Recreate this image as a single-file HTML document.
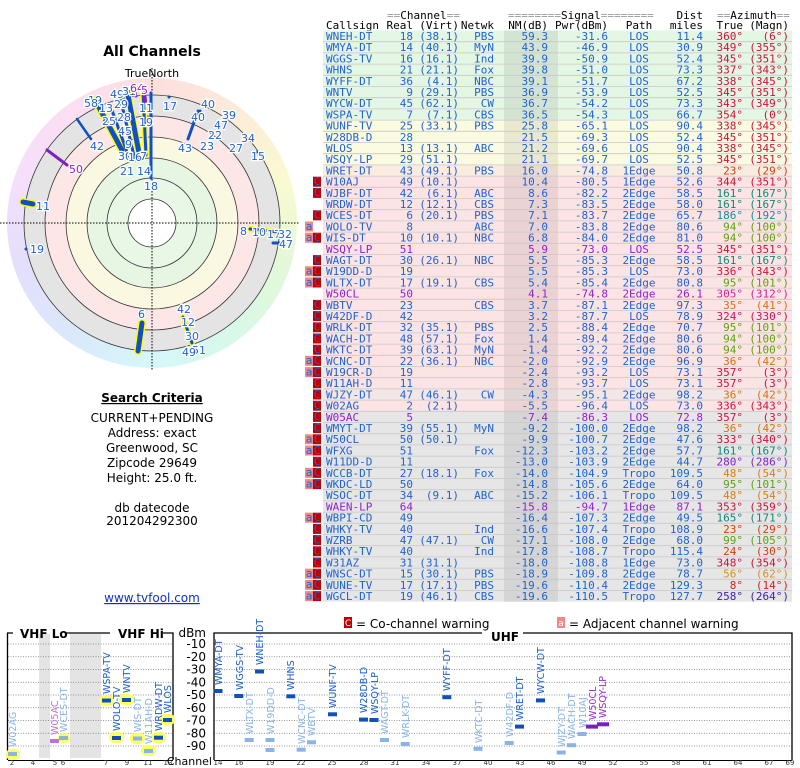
<!DOCTYPE html>
<html><head><meta charset="utf-8"><style>
body{margin:0;background:#fff;width:800px;height:768px;overflow:hidden;position:relative}
#ring{position:absolute;left:7px;top:78px;width:290px;height:290px;border-radius:50%;
background:conic-gradient(hsl(0,80%,93%),hsl(30,85%,92%),hsl(60,80%,90%),hsl(100,70%,91%),hsl(150,70%,91%),hsl(185,80%,91%),hsl(215,80%,92%),hsl(250,80%,93%),hsl(285,80%,93%),hsl(320,80%,93%),hsl(360,80%,93%))}
svg{position:absolute;left:0;top:0}
.t text{font-family:"DejaVu Sans Mono","Liberation Mono",monospace;font-size:11px;fill:#1f62d2}
.e{text-anchor:end}.m{text-anchor:middle}
.g{fill:#999}
.p{fill:#9020d0}
.s{font-family:"DejaVu Sans","Liberation Sans",sans-serif}
.lb{font-family:"DejaVu Sans","Liberation Sans",sans-serif;font-size:9.5px}
.st{fill:#1a5fd0}.fa{fill:#8ab4e8}.pu{fill:#9a30d0}
.pl{font-family:"DejaVu Sans","Liberation Sans",sans-serif;font-size:11px;fill:#1f62d2;paint-order:stroke;stroke:#fff;stroke-width:2.5px}
.bd{font-family:"DejaVu Sans","Liberation Sans",sans-serif;font-size:9px;fill:#fff;text-anchor:middle}
</style></head><body>
<div id="ring"></div>
<svg width="800" height="768" viewBox="0 0 800 768">
<!-- left panel -->
<text x="152" y="56" class="s m" font-size="14" font-weight="bold">All Channels</text>
<text x="152" y="77" class="s m" font-size="11">TrueNorth</text>
<circle cx="152" cy="223" r="128" fill="#e4e4e4" stroke="#333" stroke-width="0.8"/>
<circle cx="152" cy="223" r="107" fill="#fde6e6" stroke="#333" stroke-width="0.8"/>
<circle cx="152" cy="223" r="86" fill="#fbf8e2" stroke="#333" stroke-width="0.8"/>
<circle cx="152" cy="223" r="65" fill="#e6f6e2" stroke="#333" stroke-width="0.8"/>
<circle cx="152" cy="223" r="45" fill="#e8f7e6" stroke="#333" stroke-width="0.8"/>
<circle cx="152" cy="223" r="24" fill="#fff" stroke="#333" stroke-width="0.8"/>
<line x1="0" y1="223" x2="300" y2="223" stroke="#000" stroke-dasharray="1.5,1.5" stroke-width="1"/>
<line x1="152" y1="68" x2="152" y2="370" stroke="#000" stroke-dasharray="1.5,1.5" stroke-width="1"/>
<g stroke-linecap="round">
<line x1="95" y1="100" x2="122" y2="150" stroke="#ff0" stroke-width="8"/>
<line x1="95" y1="100" x2="122" y2="150" stroke="#1050c0" stroke-width="5"/>
<line x1="110" y1="105" x2="130" y2="160" stroke="#1050c0" stroke-width="3"/>
<line x1="120" y1="97" x2="135" y2="160" stroke="#1050c0" stroke-width="3"/>
<line x1="127" y1="90" x2="140" y2="158" stroke="#ff0" stroke-width="7"/>
<line x1="127" y1="90" x2="140" y2="158" stroke="#1050c0" stroke-width="5"/>
<line x1="143" y1="92" x2="146" y2="155" stroke="#ff0" stroke-width="6"/>
<line x1="143" y1="92" x2="146" y2="155" stroke="#1050c0" stroke-width="3"/>
<line x1="151" y1="93" x2="151" y2="178" stroke="#1050c0" stroke-width="3"/>
<line x1="134" y1="88" x2="136" y2="96" stroke="#8020c0" stroke-width="3"/>
<line x1="144" y1="93" x2="145" y2="101" stroke="#8020c0" stroke-width="4"/>
<line x1="198" y1="111" x2="188" y2="139" stroke="#1050c0" stroke-width="3"/>
<line x1="77" y1="119" x2="91" y2="139" stroke="#1050c0" stroke-width="2.5"/>
<line x1="47" y1="150" x2="67" y2="165" stroke="#8020c0" stroke-width="3"/>
<line x1="23" y1="202" x2="33" y2="204" stroke="#ff0" stroke-width="8"/>
<line x1="23" y1="202" x2="33" y2="204" stroke="#1050c0" stroke-width="5"/>
<line x1="142" y1="323" x2="138" y2="351" stroke="#ff0" stroke-width="8"/>
<line x1="142" y1="323" x2="138" y2="351" stroke="#1050c0" stroke-width="5"/>
<line x1="183" y1="317" x2="192" y2="343" stroke="#ff0" stroke-width="6"/>
<line x1="183" y1="317" x2="192" y2="343" stroke="#1050c0" stroke-width="3"/>
<line x1="250" y1="229" x2="279" y2="232" stroke="#ff0" stroke-width="6"/>
<line x1="250" y1="229" x2="279" y2="232" stroke="#1050c0" stroke-width="3"/>
<line x1="273" y1="243" x2="279" y2="243" stroke="#1050c0" stroke-width="3"/>
<circle cx="169" cy="97" r="1.5" fill="#1050c0"/><circle cx="26" cy="249" r="1.5" fill="#1050c0"/><circle cx="257" cy="152" r="1.5" fill="#1050c0"/><circle cx="218" cy="127" r="1.5" fill="#1050c0"/><circle cx="200" cy="111" r="1.5" fill="#1050c0"/>
</g>
<g class="pl">
<text x="144" y="190">18</text><text x="178" y="152">43</text><text x="90" y="150">42</text><text x="69" y="173" style="fill:#9020d0">50</text>
<text x="36" y="210">11</text><text x="30" y="253">19</text><text x="138" y="318">6</text>
<text x="177" y="313">42</text><text x="181" y="326">12</text><text x="185" y="340">30</text><text x="192" y="354">51</text><text x="182" y="356">49</text>
<text x="240" y="235">8</text><text x="252" y="236">10</text><text x="267" y="238">17</text><text x="278" y="238">32</text><text x="279" y="248">47</text>
<text x="163" y="110">17</text><text x="201" y="108">40</text><text x="191" y="121">40</text><text x="222" y="119">39</text><text x="214" y="129">47</text><text x="208" y="139">22</text><text x="200" y="150">23</text><text x="241" y="142">34</text><text x="229" y="152">27</text><text x="251" y="160">15</text>
<text x="110" y="98">49</text><text x="122" y="95">31</text><text x="130" y="92" style="fill:#9020d0">64</text><text x="141" y="94" style="fill:#9020d0">5</text>
<text x="88" y="104">19</text><text x="84" y="107">58</text><text x="99" y="112">13</text><text x="114" y="108">29</text><text x="139" y="112">11</text><text x="139" y="126">19</text>
<text x="117" y="121">28</text><text x="102" y="125">25</text><text x="118" y="135">45</text><text x="125" y="148">9</text><text x="118" y="160">30</text><text x="128" y="161">16</text><text x="140" y="160">7</text><text x="120" y="175">21</text><text x="137" y="175">14</text>
</g>
<g class="s" font-size="12" text-anchor="middle">
<text x="152" y="402" font-weight="bold" text-decoration="underline">Search Criteria</text>
<text x="152" y="422">CURRENT+PENDING</text>
<text x="152" y="437">Address: exact</text>
<text x="152" y="452">Greenwood, SC</text>
<text x="152" y="467">Zipcode 29649</text>
<text x="152" y="482">Height: 25.0 ft.</text>
<text x="152" y="512">db datecode</text>
<text x="152" y="525">201204292300</text>
<text x="152" y="602" fill="#1030d0" text-decoration="underline">www.tvfool.com</text>
</g>

<!-- table -->
<g class="t">
<text y="19"><tspan x="387" class="g">==</tspan><tspan fill="#000" style="fill:#000">Channel</tspan><tspan class="g">==</tspan><tspan x="508" class="g">========</tspan><tspan style="fill:#000">Signal</tspan><tspan class="g">========</tspan><tspan x="703" class="e" style="fill:#000">Dist</tspan><tspan x="717" class="g">==</tspan><tspan style="fill:#000">Azimuth</tspan><tspan class="g">==</tspan></text>
<text y="29" style="fill:#000"><tspan x="326">Callsign</tspan><tspan x="413" class="e">Real</tspan><tspan x="459" class="e">(Virt)</tspan><tspan x="494" class="e">Netwk</tspan><tspan x="548" class="e">NM(dB)</tspan><tspan x="608" class="e">Pwr(dBm)</tspan><tspan x="639" class="m">Path</tspan><tspan x="703" class="e">miles</tspan><tspan x="743" class="e">True</tspan><tspan x="789" class="e">(Magn)</tspan></text>

<rect x="323" y="30.5" width="469" height="89.6" fill="#e4f6e4"/>
<rect x="323" y="120.1" width="469" height="44.8" fill="#fbfbe2"/>
<rect x="323" y="164.9" width="469" height="11.2" fill="#fbece2"/>
<rect x="323" y="176.1" width="469" height="235.2" fill="#fde4e4"/>
<rect x="323" y="388.9" width="469" height="11.2" fill="#f3e6e6"/>
<rect x="323" y="411.3" width="469" height="190.4" fill="#e6e6e6"/>
<rect x="504" y="30.5" width="54" height="571.2" fill="rgba(0,0,0,0.07)"/>
<g stroke="#c8c8c8" stroke-width="0.8">
<path d="M323 41.7H792M323 52.9H792M323 64.1H792M323 75.3H792M323 86.5H792M323 97.7H792M323 108.9H792M323 120.1H792M323 131.3H792M323 142.5H792M323 153.7H792M323 164.9H792M323 176.1H792M323 187.3H792M323 198.5H792M323 209.7H792M323 220.9H792M323 232.1H792M323 243.3H792M323 254.5H792M323 265.7H792M323 276.9H792M323 288.1H792M323 299.3H792M323 310.5H792M323 321.7H792M323 332.9H792M323 344.1H792M323 355.3H792M323 366.5H792M323 377.7H792M323 388.9H792M323 400.1H792M323 411.3H792M323 422.5H792M323 433.7H792M323 444.9H792M323 456.1H792M323 467.3H792M323 478.5H792M323 489.7H792M323 500.9H792M323 512.1H792M323 523.3H792M323 534.5H792M323 545.7H792M323 556.9H792M323 568.1H792M323 579.3H792M323 590.5H792"/>
</g>

<!-- badges: C -->
<g fill="#c00000">
<rect x="313" y="176.7" width="8" height="10"/><rect x="313" y="187.9" width="8" height="10"/><rect x="313" y="210.3" width="8" height="10"/><rect x="313" y="232.7" width="8" height="10"/><rect x="313" y="255.1" width="8" height="10"/><rect x="313" y="266.3" width="8" height="10"/><rect x="313" y="277.5" width="8" height="10"/><rect x="313" y="299.9" width="8" height="10"/><rect x="313" y="311.1" width="8" height="10"/><rect x="313" y="322.3" width="8" height="10"/><rect x="313" y="333.5" width="8" height="10"/><rect x="313" y="344.7" width="8" height="10"/><rect x="313" y="355.9" width="8" height="10"/><rect x="313" y="367.1" width="8" height="10"/><rect x="313" y="378.3" width="8" height="10"/><rect x="313" y="389.5" width="8" height="10"/><rect x="313" y="400.7" width="8" height="10"/><rect x="313" y="411.9" width="8" height="10"/><rect x="313" y="423.1" width="8" height="10"/><rect x="313" y="434.3" width="8" height="10"/><rect x="313" y="445.5" width="8" height="10"/><rect x="313" y="456.7" width="8" height="10"/><rect x="313" y="467.9" width="8" height="10"/><rect x="313" y="479.1" width="8" height="10"/><rect x="313" y="512.7" width="8" height="10"/><rect x="313" y="523.9" width="8" height="10"/><rect x="313" y="535.1" width="8" height="10"/><rect x="313" y="546.3" width="8" height="10"/><rect x="313" y="557.5" width="8" height="10"/><rect x="313" y="568.7" width="8" height="10"/><rect x="313" y="579.9" width="8" height="10"/><rect x="313" y="591.1" width="8" height="10"/>
</g>
<g fill="#f08888">
<rect x="305" y="221.5" width="8" height="10"/><rect x="305" y="232.7" width="8" height="10"/><rect x="305" y="266.3" width="8" height="10"/><rect x="305" y="277.5" width="8" height="10"/><rect x="305" y="355.9" width="8" height="10"/><rect x="305" y="367.1" width="8" height="10"/><rect x="305" y="434.3" width="8" height="10"/><rect x="305" y="445.5" width="8" height="10"/><rect x="305" y="467.9" width="8" height="10"/><rect x="305" y="479.1" width="8" height="10"/><rect x="305" y="512.7" width="8" height="10"/><rect x="305" y="568.7" width="8" height="10"/><rect x="305" y="579.9" width="8" height="10"/><rect x="305" y="591.1" width="8" height="10"/>
</g>
<g class="bd">
<text x="317" y="185">C</text><text x="317" y="196.2">C</text><text x="317" y="218.6">C</text><text x="317" y="241">C</text><text x="317" y="263.4">C</text><text x="317" y="274.6">C</text><text x="317" y="285.8">C</text><text x="317" y="308.2">C</text><text x="317" y="319.4">C</text><text x="317" y="330.6">C</text><text x="317" y="341.8">C</text><text x="317" y="353">C</text><text x="317" y="364.2">C</text><text x="317" y="375.4">C</text><text x="317" y="386.6">C</text><text x="317" y="397.8">C</text><text x="317" y="409">C</text><text x="317" y="420.2">C</text><text x="317" y="431.4">C</text><text x="317" y="442.6">C</text><text x="317" y="453.8">C</text><text x="317" y="465">C</text><text x="317" y="476.2">C</text><text x="317" y="487.4">C</text><text x="317" y="521">C</text><text x="317" y="532.2">C</text><text x="317" y="543.4">C</text><text x="317" y="554.6">C</text><text x="317" y="565.8">C</text><text x="317" y="577">C</text><text x="317" y="588.2">C</text><text x="317" y="599.4">C</text>
<text x="309" y="229.8">a</text><text x="309" y="241">a</text><text x="309" y="274.6">a</text><text x="309" y="285.8">a</text><text x="309" y="364.2">a</text><text x="309" y="375.4">a</text><text x="309" y="442.6">a</text><text x="309" y="453.8">a</text><text x="309" y="476.2">a</text><text x="309" y="487.4">a</text><text x="309" y="521">a</text><text x="309" y="577">a</text><text x="309" y="588.2">a</text><text x="309" y="599.4">a</text>
</g>

<g transform="translate(0,30.5)"><text y="9.5"><tspan x="326">WNEH-DT</tspan><tspan x="413" class="e">18</tspan><tspan x="459" class="e">(38.1)</tspan><tspan x="494" class="e">PBS</tspan><tspan x="548" class="e">59.3</tspan><tspan x="608" class="e">-31.6</tspan><tspan x="639" class="m">LOS</tspan><tspan x="703" class="e">11.4</tspan><tspan x="743" class="e" style="fill:#d0103a">360°</tspan><tspan x="789" class="e" style="fill:#d0103a">(6°)</tspan></text></g>
<g transform="translate(0,41.7)"><text y="9.5"><tspan x="326">WMYA-DT</tspan><tspan x="413" class="e">14</tspan><tspan x="459" class="e">(40.1)</tspan><tspan x="494" class="e">MyN</tspan><tspan x="548" class="e">43.9</tspan><tspan x="608" class="e">-46.9</tspan><tspan x="639" class="m">LOS</tspan><tspan x="703" class="e">30.9</tspan><tspan x="743" class="e" style="fill:#d0103a">349°</tspan><tspan x="789" class="e" style="fill:#d0103a">(355°)</tspan></text></g>
<g transform="translate(0,52.9)"><text y="9.5"><tspan x="326">WGGS-TV</tspan><tspan x="413" class="e">16</tspan><tspan x="459" class="e">(16.1)</tspan><tspan x="494" class="e">Ind</tspan><tspan x="548" class="e">39.9</tspan><tspan x="608" class="e">-50.9</tspan><tspan x="639" class="m">LOS</tspan><tspan x="703" class="e">52.4</tspan><tspan x="743" class="e" style="fill:#d0103a">345°</tspan><tspan x="789" class="e" style="fill:#d0103a">(351°)</tspan></text></g>
<g transform="translate(0,64.1)"><text y="9.5"><tspan x="326">WHNS</tspan><tspan x="413" class="e">21</tspan><tspan x="459" class="e">(21.1)</tspan><tspan x="494" class="e">Fox</tspan><tspan x="548" class="e">39.8</tspan><tspan x="608" class="e">-51.0</tspan><tspan x="639" class="m">LOS</tspan><tspan x="703" class="e">73.3</tspan><tspan x="743" class="e" style="fill:#d0103a">337°</tspan><tspan x="789" class="e" style="fill:#d0103a">(343°)</tspan></text></g>
<g transform="translate(0,75.3)"><text y="9.5"><tspan x="326">WYFF-DT</tspan><tspan x="413" class="e">36</tspan><tspan x="459" class="e">(4.1)</tspan><tspan x="494" class="e">NBC</tspan><tspan x="548" class="e">39.1</tspan><tspan x="608" class="e">-51.7</tspan><tspan x="639" class="m">LOS</tspan><tspan x="703" class="e">67.2</tspan><tspan x="743" class="e" style="fill:#d0103a">338°</tspan><tspan x="789" class="e" style="fill:#d0103a">(345°)</tspan></text></g>
<g transform="translate(0,86.5)"><text y="9.5"><tspan x="326">WNTV</tspan><tspan x="413" class="e">9</tspan><tspan x="459" class="e">(29.1)</tspan><tspan x="494" class="e">PBS</tspan><tspan x="548" class="e">36.9</tspan><tspan x="608" class="e">-53.9</tspan><tspan x="639" class="m">LOS</tspan><tspan x="703" class="e">52.5</tspan><tspan x="743" class="e" style="fill:#d0103a">345°</tspan><tspan x="789" class="e" style="fill:#d0103a">(351°)</tspan></text></g>
<g transform="translate(0,97.7)"><text y="9.5"><tspan x="326">WYCW-DT</tspan><tspan x="413" class="e">45</tspan><tspan x="459" class="e">(62.1)</tspan><tspan x="494" class="e">CW</tspan><tspan x="548" class="e">36.7</tspan><tspan x="608" class="e">-54.2</tspan><tspan x="639" class="m">LOS</tspan><tspan x="703" class="e">73.3</tspan><tspan x="743" class="e" style="fill:#d0103a">343°</tspan><tspan x="789" class="e" style="fill:#d0103a">(349°)</tspan></text></g>
<g transform="translate(0,108.9)"><text y="9.5"><tspan x="326">WSPA-TV</tspan><tspan x="413" class="e">7</tspan><tspan x="459" class="e">(7.1)</tspan><tspan x="494" class="e">CBS</tspan><tspan x="548" class="e">36.5</tspan><tspan x="608" class="e">-54.3</tspan><tspan x="639" class="m">LOS</tspan><tspan x="703" class="e">66.7</tspan><tspan x="743" class="e" style="fill:#d0103a">354°</tspan><tspan x="789" class="e" style="fill:#d0103a">(0°)</tspan></text></g>
<g transform="translate(0,120.1)"><text y="9.5"><tspan x="326">WUNF-TV</tspan><tspan x="413" class="e">25</tspan><tspan x="459" class="e">(33.1)</tspan><tspan x="494" class="e">PBS</tspan><tspan x="548" class="e">25.8</tspan><tspan x="608" class="e">-65.1</tspan><tspan x="639" class="m">LOS</tspan><tspan x="703" class="e">90.4</tspan><tspan x="743" class="e" style="fill:#d0103a">338°</tspan><tspan x="789" class="e" style="fill:#d0103a">(345°)</tspan></text></g>
<g transform="translate(0,131.3)"><text y="9.5"><tspan x="326">W28DB-D</tspan><tspan x="413" class="e">28</tspan><tspan x="548" class="e">21.5</tspan><tspan x="608" class="e">-69.3</tspan><tspan x="639" class="m">LOS</tspan><tspan x="703" class="e">52.4</tspan><tspan x="743" class="e" style="fill:#d0103a">345°</tspan><tspan x="789" class="e" style="fill:#d0103a">(351°)</tspan></text></g>
<g transform="translate(0,142.5)"><text y="9.5"><tspan x="326">WLOS</tspan><tspan x="413" class="e">13</tspan><tspan x="459" class="e">(13.1)</tspan><tspan x="494" class="e">ABC</tspan><tspan x="548" class="e">21.2</tspan><tspan x="608" class="e">-69.6</tspan><tspan x="639" class="m">LOS</tspan><tspan x="703" class="e">90.4</tspan><tspan x="743" class="e" style="fill:#d0103a">338°</tspan><tspan x="789" class="e" style="fill:#d0103a">(345°)</tspan></text></g>
<g transform="translate(0,153.7)"><text y="9.5"><tspan x="326">WSQY-LP</tspan><tspan x="413" class="e">29</tspan><tspan x="459" class="e">(51.1)</tspan><tspan x="548" class="e">21.1</tspan><tspan x="608" class="e">-69.7</tspan><tspan x="639" class="m">LOS</tspan><tspan x="703" class="e">52.5</tspan><tspan x="743" class="e" style="fill:#d0103a">345°</tspan><tspan x="789" class="e" style="fill:#d0103a">(351°)</tspan></text></g>
<g transform="translate(0,164.9)"><text y="9.5"><tspan x="326">WRET-DT</tspan><tspan x="413" class="e">43</tspan><tspan x="459" class="e">(49.1)</tspan><tspan x="494" class="e">PBS</tspan><tspan x="548" class="e">16.0</tspan><tspan x="608" class="e">-74.8</tspan><tspan x="639" class="m">1Edge</tspan><tspan x="703" class="e">50.8</tspan><tspan x="743" class="e" style="fill:#d04010">23°</tspan><tspan x="789" class="e" style="fill:#d04010">(29°)</tspan></text></g>
<g transform="translate(0,176.1)"><text y="9.5"><tspan x="326">W10AJ</tspan><tspan x="413" class="e">49</tspan><tspan x="459" class="e">(10.1)</tspan><tspan x="548" class="e">10.4</tspan><tspan x="608" class="e">-80.5</tspan><tspan x="639" class="m">1Edge</tspan><tspan x="703" class="e">52.6</tspan><tspan x="743" class="e" style="fill:#d0103a">344°</tspan><tspan x="789" class="e" style="fill:#d0103a">(351°)</tspan></text></g>
<g transform="translate(0,187.3)"><text y="9.5"><tspan x="326">WJBF-DT</tspan><tspan x="413" class="e">42</tspan><tspan x="459" class="e">(6.1)</tspan><tspan x="494" class="e">ABC</tspan><tspan x="548" class="e">8.6</tspan><tspan x="608" class="e">-82.2</tspan><tspan x="639" class="m">2Edge</tspan><tspan x="703" class="e">58.5</tspan><tspan x="743" class="e" style="fill:#108878">161°</tspan><tspan x="789" class="e" style="fill:#108878">(167°)</tspan></text></g>
<g transform="translate(0,198.5)"><text y="9.5"><tspan x="326">WRDW-DT</tspan><tspan x="413" class="e">12</tspan><tspan x="459" class="e">(12.1)</tspan><tspan x="494" class="e">CBS</tspan><tspan x="548" class="e">7.3</tspan><tspan x="608" class="e">-83.5</tspan><tspan x="639" class="m">2Edge</tspan><tspan x="703" class="e">58.0</tspan><tspan x="743" class="e" style="fill:#108878">161°</tspan><tspan x="789" class="e" style="fill:#108878">(167°)</tspan></text></g>
<g transform="translate(0,209.7)"><text y="9.5"><tspan x="326">WCES-DT</tspan><tspan x="413" class="e">6</tspan><tspan x="459" class="e">(20.1)</tspan><tspan x="494" class="e">PBS</tspan><tspan x="548" class="e">7.1</tspan><tspan x="608" class="e">-83.7</tspan><tspan x="639" class="m">2Edge</tspan><tspan x="703" class="e">65.7</tspan><tspan x="743" class="e" style="fill:#1888a0">186°</tspan><tspan x="789" class="e" style="fill:#1888a0">(192°)</tspan></text></g>
<g transform="translate(0,220.9)"><text y="9.5"><tspan x="326">WOLO-TV</tspan><tspan x="413" class="e">8</tspan><tspan x="494" class="e">ABC</tspan><tspan x="548" class="e">7.0</tspan><tspan x="608" class="e">-83.8</tspan><tspan x="639" class="m">2Edge</tspan><tspan x="703" class="e">80.6</tspan><tspan x="743" class="e" style="fill:#60a010">94°</tspan><tspan x="789" class="e" style="fill:#60a010">(100°)</tspan></text></g>
<g transform="translate(0,232.1)"><text y="9.5"><tspan x="326">WIS-DT</tspan><tspan x="413" class="e">10</tspan><tspan x="459" class="e">(10.1)</tspan><tspan x="494" class="e">NBC</tspan><tspan x="548" class="e">6.8</tspan><tspan x="608" class="e">-84.0</tspan><tspan x="639" class="m">2Edge</tspan><tspan x="703" class="e">81.0</tspan><tspan x="743" class="e" style="fill:#60a010">94°</tspan><tspan x="789" class="e" style="fill:#60a010">(100°)</tspan></text></g>
<g transform="translate(0,243.3)"><text y="9.5"><tspan x="326" class="p">WSQY-LP</tspan><tspan x="413" class="e p">51</tspan><tspan x="548" class="e p">5.9</tspan><tspan x="608" class="e p">-73.0</tspan><tspan x="639" class="m p">LOS</tspan><tspan x="703" class="e p">52.5</tspan><tspan x="743" class="e" style="fill:#d0103a">345°</tspan><tspan x="789" class="e" style="fill:#d0103a">(351°)</tspan></text></g>
<g transform="translate(0,254.5)"><text y="9.5"><tspan x="326">WAGT-DT</tspan><tspan x="413" class="e">30</tspan><tspan x="459" class="e">(26.1)</tspan><tspan x="494" class="e">NBC</tspan><tspan x="548" class="e">5.5</tspan><tspan x="608" class="e">-85.3</tspan><tspan x="639" class="m">2Edge</tspan><tspan x="703" class="e">58.5</tspan><tspan x="743" class="e" style="fill:#108878">161°</tspan><tspan x="789" class="e" style="fill:#108878">(167°)</tspan></text></g>
<g transform="translate(0,265.7)"><text y="9.5"><tspan x="326">W19DD-D</tspan><tspan x="413" class="e">19</tspan><tspan x="548" class="e">5.5</tspan><tspan x="608" class="e">-85.3</tspan><tspan x="639" class="m">LOS</tspan><tspan x="703" class="e">73.0</tspan><tspan x="743" class="e" style="fill:#d0103a">336°</tspan><tspan x="789" class="e" style="fill:#d0103a">(343°)</tspan></text></g>
<g transform="translate(0,276.9)"><text y="9.5"><tspan x="326">WLTX-DT</tspan><tspan x="413" class="e">17</tspan><tspan x="459" class="e">(19.1)</tspan><tspan x="494" class="e">CBS</tspan><tspan x="548" class="e">5.4</tspan><tspan x="608" class="e">-85.4</tspan><tspan x="639" class="m">2Edge</tspan><tspan x="703" class="e">80.8</tspan><tspan x="743" class="e" style="fill:#60a010">95°</tspan><tspan x="789" class="e" style="fill:#60a010">(101°)</tspan></text></g>
<g transform="translate(0,288.1)"><text y="9.5"><tspan x="326" class="p">W50CL</tspan><tspan x="413" class="e p">50</tspan><tspan x="548" class="e p">4.1</tspan><tspan x="608" class="e p">-74.8</tspan><tspan x="639" class="m p">2Edge</tspan><tspan x="703" class="e p">26.1</tspan><tspan x="743" class="e" style="fill:#d020a0">305°</tspan><tspan x="789" class="e" style="fill:#d020a0">(312°)</tspan></text></g>
<g transform="translate(0,299.3)"><text y="9.5"><tspan x="326">WBTV</tspan><tspan x="413" class="e">23</tspan><tspan x="494" class="e">CBS</tspan><tspan x="548" class="e">3.7</tspan><tspan x="608" class="e">-87.1</tspan><tspan x="639" class="m">2Edge</tspan><tspan x="703" class="e">97.3</tspan><tspan x="743" class="e" style="fill:#d87010">35°</tspan><tspan x="789" class="e" style="fill:#d87010">(41°)</tspan></text></g>
<g transform="translate(0,310.5)"><text y="9.5"><tspan x="326">W42DF-D</tspan><tspan x="413" class="e">42</tspan><tspan x="548" class="e">3.2</tspan><tspan x="608" class="e">-87.7</tspan><tspan x="639" class="m">LOS</tspan><tspan x="703" class="e">78.9</tspan><tspan x="743" class="e" style="fill:#d01060">324°</tspan><tspan x="789" class="e" style="fill:#d01060">(330°)</tspan></text></g>
<g transform="translate(0,321.7)"><text y="9.5"><tspan x="326">WRLK-DT</tspan><tspan x="413" class="e">32</tspan><tspan x="459" class="e">(35.1)</tspan><tspan x="494" class="e">PBS</tspan><tspan x="548" class="e">2.5</tspan><tspan x="608" class="e">-88.4</tspan><tspan x="639" class="m">2Edge</tspan><tspan x="703" class="e">70.7</tspan><tspan x="743" class="e" style="fill:#60a010">95°</tspan><tspan x="789" class="e" style="fill:#60a010">(101°)</tspan></text></g>
<g transform="translate(0,332.9)"><text y="9.5"><tspan x="326">WACH-DT</tspan><tspan x="413" class="e">48</tspan><tspan x="459" class="e">(57.1)</tspan><tspan x="494" class="e">Fox</tspan><tspan x="548" class="e">1.4</tspan><tspan x="608" class="e">-89.4</tspan><tspan x="639" class="m">2Edge</tspan><tspan x="703" class="e">80.6</tspan><tspan x="743" class="e" style="fill:#60a010">94°</tspan><tspan x="789" class="e" style="fill:#60a010">(100°)</tspan></text></g>
<g transform="translate(0,344.1)"><text y="9.5"><tspan x="326">WKTC-DT</tspan><tspan x="413" class="e">39</tspan><tspan x="459" class="e">(63.1)</tspan><tspan x="494" class="e">MyN</tspan><tspan x="548" class="e">-1.4</tspan><tspan x="608" class="e">-92.2</tspan><tspan x="639" class="m">2Edge</tspan><tspan x="703" class="e">80.6</tspan><tspan x="743" class="e" style="fill:#60a010">94°</tspan><tspan x="789" class="e" style="fill:#60a010">(100°)</tspan></text></g>
<g transform="translate(0,355.3)"><text y="9.5"><tspan x="326">WCNC-DT</tspan><tspan x="413" class="e">22</tspan><tspan x="459" class="e">(36.1)</tspan><tspan x="494" class="e">NBC</tspan><tspan x="548" class="e">-2.0</tspan><tspan x="608" class="e">-92.9</tspan><tspan x="639" class="m">2Edge</tspan><tspan x="703" class="e">96.9</tspan><tspan x="743" class="e" style="fill:#d87010">36°</tspan><tspan x="789" class="e" style="fill:#d87010">(42°)</tspan></text></g>
<g transform="translate(0,366.5)"><text y="9.5"><tspan x="326">W19CR-D</tspan><tspan x="413" class="e">19</tspan><tspan x="548" class="e">-2.4</tspan><tspan x="608" class="e">-93.2</tspan><tspan x="639" class="m">LOS</tspan><tspan x="703" class="e">73.1</tspan><tspan x="743" class="e" style="fill:#d0103a">357°</tspan><tspan x="789" class="e" style="fill:#d0103a">(3°)</tspan></text></g>
<g transform="translate(0,377.7)"><text y="9.5"><tspan x="326">W11AH-D</tspan><tspan x="413" class="e">11</tspan><tspan x="548" class="e">-2.8</tspan><tspan x="608" class="e">-93.7</tspan><tspan x="639" class="m">LOS</tspan><tspan x="703" class="e">73.1</tspan><tspan x="743" class="e" style="fill:#d0103a">357°</tspan><tspan x="789" class="e" style="fill:#d0103a">(3°)</tspan></text></g>
<g transform="translate(0,388.9)"><text y="9.5"><tspan x="326">WJZY-DT</tspan><tspan x="413" class="e">47</tspan><tspan x="459" class="e">(46.1)</tspan><tspan x="494" class="e">CW</tspan><tspan x="548" class="e">-4.3</tspan><tspan x="608" class="e">-95.1</tspan><tspan x="639" class="m">2Edge</tspan><tspan x="703" class="e">98.2</tspan><tspan x="743" class="e" style="fill:#d87010">36°</tspan><tspan x="789" class="e" style="fill:#d87010">(42°)</tspan></text></g>
<g transform="translate(0,400.1)"><text y="9.5"><tspan x="326">W02AG</tspan><tspan x="413" class="e">2</tspan><tspan x="459" class="e">(2.1)</tspan><tspan x="548" class="e">-5.5</tspan><tspan x="608" class="e">-96.4</tspan><tspan x="639" class="m">LOS</tspan><tspan x="703" class="e">73.0</tspan><tspan x="743" class="e" style="fill:#d0103a">336°</tspan><tspan x="789" class="e" style="fill:#d0103a">(343°)</tspan></text></g>
<g transform="translate(0,411.3)"><text y="9.5"><tspan x="326" class="p">W05AC</tspan><tspan x="413" class="e p">5</tspan><tspan x="548" class="e p">-7.4</tspan><tspan x="608" class="e p">-86.3</tspan><tspan x="639" class="m p">LOS</tspan><tspan x="703" class="e p">72.8</tspan><tspan x="743" class="e" style="fill:#d0103a">357°</tspan><tspan x="789" class="e" style="fill:#d0103a">(3°)</tspan></text></g>
<g transform="translate(0,422.5)"><text y="9.5"><tspan x="326">WMYT-DT</tspan><tspan x="413" class="e">39</tspan><tspan x="459" class="e">(55.1)</tspan><tspan x="494" class="e">MyN</tspan><tspan x="548" class="e">-9.2</tspan><tspan x="608" class="e">-100.0</tspan><tspan x="639" class="m">2Edge</tspan><tspan x="703" class="e">98.2</tspan><tspan x="743" class="e" style="fill:#d87010">36°</tspan><tspan x="789" class="e" style="fill:#d87010">(42°)</tspan></text></g>
<g transform="translate(0,433.7)"><text y="9.5"><tspan x="326">W50CL</tspan><tspan x="413" class="e">50</tspan><tspan x="459" class="e">(50.1)</tspan><tspan x="548" class="e">-9.9</tspan><tspan x="608" class="e">-100.7</tspan><tspan x="639" class="m">2Edge</tspan><tspan x="703" class="e">47.6</tspan><tspan x="743" class="e" style="fill:#d0103a">333°</tspan><tspan x="789" class="e" style="fill:#d0103a">(340°)</tspan></text></g>
<g transform="translate(0,444.9)"><text y="9.5"><tspan x="326">WFXG</tspan><tspan x="413" class="e">51</tspan><tspan x="494" class="e">Fox</tspan><tspan x="548" class="e">-12.3</tspan><tspan x="608" class="e">-103.2</tspan><tspan x="639" class="m">2Edge</tspan><tspan x="703" class="e">57.7</tspan><tspan x="743" class="e" style="fill:#108878">161°</tspan><tspan x="789" class="e" style="fill:#108878">(167°)</tspan></text></g>
<g transform="translate(0,456.1)"><text y="9.5"><tspan x="326">W11DD-D</tspan><tspan x="413" class="e">11</tspan><tspan x="548" class="e">-13.0</tspan><tspan x="608" class="e">-103.9</tspan><tspan x="639" class="m">2Edge</tspan><tspan x="703" class="e">44.7</tspan><tspan x="743" class="e" style="fill:#8020d0">280°</tspan><tspan x="789" class="e" style="fill:#8020d0">(286°)</tspan></text></g>
<g transform="translate(0,467.3)"><text y="9.5"><tspan x="326">WCCB-DT</tspan><tspan x="413" class="e">27</tspan><tspan x="459" class="e">(18.1)</tspan><tspan x="494" class="e">Fox</tspan><tspan x="548" class="e">-14.0</tspan><tspan x="608" class="e">-104.9</tspan><tspan x="639" class="m">Tropo</tspan><tspan x="703" class="e">109.5</tspan><tspan x="743" class="e" style="fill:#d88010">48°</tspan><tspan x="789" class="e" style="fill:#d88010">(54°)</tspan></text></g>
<g transform="translate(0,478.5)"><text y="9.5"><tspan x="326">WKDC-LD</tspan><tspan x="413" class="e">50</tspan><tspan x="548" class="e">-14.8</tspan><tspan x="608" class="e">-105.6</tspan><tspan x="639" class="m">2Edge</tspan><tspan x="703" class="e">64.0</tspan><tspan x="743" class="e" style="fill:#60a010">95°</tspan><tspan x="789" class="e" style="fill:#60a010">(101°)</tspan></text></g>
<g transform="translate(0,489.7)"><text y="9.5"><tspan x="326">WSOC-DT</tspan><tspan x="413" class="e">34</tspan><tspan x="459" class="e">(9.1)</tspan><tspan x="494" class="e">ABC</tspan><tspan x="548" class="e">-15.2</tspan><tspan x="608" class="e">-106.1</tspan><tspan x="639" class="m">Tropo</tspan><tspan x="703" class="e">109.5</tspan><tspan x="743" class="e" style="fill:#d88010">48°</tspan><tspan x="789" class="e" style="fill:#d88010">(54°)</tspan></text></g>
<g transform="translate(0,500.9)"><text y="9.5"><tspan x="326" class="p">WAEN-LP</tspan><tspan x="413" class="e p">64</tspan><tspan x="548" class="e p">-15.8</tspan><tspan x="608" class="e p">-94.7</tspan><tspan x="639" class="m p">1Edge</tspan><tspan x="703" class="e p">87.1</tspan><tspan x="743" class="e" style="fill:#d0103a">353°</tspan><tspan x="789" class="e" style="fill:#d0103a">(359°)</tspan></text></g>
<g transform="translate(0,512.1)"><text y="9.5"><tspan x="326">WBPI-CD</tspan><tspan x="413" class="e">49</tspan><tspan x="548" class="e">-16.4</tspan><tspan x="608" class="e">-107.3</tspan><tspan x="639" class="m">2Edge</tspan><tspan x="703" class="e">49.5</tspan><tspan x="743" class="e" style="fill:#108878">165°</tspan><tspan x="789" class="e" style="fill:#108878">(171°)</tspan></text></g>
<g transform="translate(0,523.3)"><text y="9.5"><tspan x="326">WHKY-TV</tspan><tspan x="413" class="e">40</tspan><tspan x="494" class="e">Ind</tspan><tspan x="548" class="e">-16.6</tspan><tspan x="608" class="e">-107.4</tspan><tspan x="639" class="m">Tropo</tspan><tspan x="703" class="e">108.9</tspan><tspan x="743" class="e" style="fill:#d04010">23°</tspan><tspan x="789" class="e" style="fill:#d04010">(29°)</tspan></text></g>
<g transform="translate(0,534.5)"><text y="9.5"><tspan x="326">WZRB</tspan><tspan x="413" class="e">47</tspan><tspan x="459" class="e">(47.1)</tspan><tspan x="494" class="e">CW</tspan><tspan x="548" class="e">-17.1</tspan><tspan x="608" class="e">-108.0</tspan><tspan x="639" class="m">2Edge</tspan><tspan x="703" class="e">68.0</tspan><tspan x="743" class="e" style="fill:#60a010">99°</tspan><tspan x="789" class="e" style="fill:#60a010">(105°)</tspan></text></g>
<g transform="translate(0,545.7)"><text y="9.5"><tspan x="326">WHKY-TV</tspan><tspan x="413" class="e">40</tspan><tspan x="494" class="e">Ind</tspan><tspan x="548" class="e">-17.8</tspan><tspan x="608" class="e">-108.7</tspan><tspan x="639" class="m">Tropo</tspan><tspan x="703" class="e">115.4</tspan><tspan x="743" class="e" style="fill:#d04010">24°</tspan><tspan x="789" class="e" style="fill:#d04010">(30°)</tspan></text></g>
<g transform="translate(0,556.9)"><text y="9.5"><tspan x="326">W31AZ</tspan><tspan x="413" class="e">31</tspan><tspan x="459" class="e">(31.1)</tspan><tspan x="548" class="e">-18.0</tspan><tspan x="608" class="e">-108.8</tspan><tspan x="639" class="m">1Edge</tspan><tspan x="703" class="e">73.0</tspan><tspan x="743" class="e" style="fill:#d0103a">348°</tspan><tspan x="789" class="e" style="fill:#d0103a">(354°)</tspan></text></g>
<g transform="translate(0,568.1)"><text y="9.5"><tspan x="326">WNSC-DT</tspan><tspan x="413" class="e">15</tspan><tspan x="459" class="e">(30.1)</tspan><tspan x="494" class="e">PBS</tspan><tspan x="548" class="e">-18.9</tspan><tspan x="608" class="e">-109.8</tspan><tspan x="639" class="m">2Edge</tspan><tspan x="703" class="e">78.7</tspan><tspan x="743" class="e" style="fill:#d89020">56°</tspan><tspan x="789" class="e" style="fill:#d89020">(62°)</tspan></text></g>
<g transform="translate(0,579.3)"><text y="9.5"><tspan x="326">WUNE-TV</tspan><tspan x="413" class="e">17</tspan><tspan x="459" class="e">(17.1)</tspan><tspan x="494" class="e">PBS</tspan><tspan x="548" class="e">-19.6</tspan><tspan x="608" class="e">-110.4</tspan><tspan x="639" class="m">2Edge</tspan><tspan x="703" class="e">129.3</tspan><tspan x="743" class="e" style="fill:#d02020">8°</tspan><tspan x="789" class="e" style="fill:#d02020">(14°)</tspan></text></g>
<g transform="translate(0,590.5)"><text y="9.5"><tspan x="326">WGCL-DT</tspan><tspan x="413" class="e">19</tspan><tspan x="459" class="e">(46.1)</tspan><tspan x="494" class="e">CBS</tspan><tspan x="548" class="e">-19.6</tspan><tspan x="608" class="e">-110.5</tspan><tspan x="639" class="m">Tropo</tspan><tspan x="703" class="e">127.7</tspan><tspan x="743" class="e" style="fill:#4020b0">258°</tspan><tspan x="789" class="e" style="fill:#4020b0">(264°)</tspan></text></g>
</g>

<!-- legend -->
<rect x="344" y="617" width="8" height="11" fill="#c00000"/><text x="348" y="626" class="s m" font-size="9" fill="#fff">C</text>
<text x="356" y="628" class="s" font-size="12">= Co-channel warning</text>
<rect x="557" y="617" width="8" height="11" fill="#f08888"/><text x="561" y="626" class="s m" font-size="9" fill="#fff">a</text>
<text x="569" y="628" class="s" font-size="12">= Adjacent channel warning</text>

<!-- spectrum -->
<rect x="39" y="634" width="11" height="124" fill="#e4e4e4"/>
<rect x="70" y="634" width="31" height="124" fill="#e4e4e4"/>
<g stroke="#777" stroke-dasharray="1,1.5" stroke-width="0.8">
<path d="M8 644H173M8 656.75H173M8 669.5H173M8 682.25H173M8 695H173M8 707.75H173M8 720.5H173M8 733.25H173M8 746H173"/>
<path d="M214 644H792M214 656.75H792M214 669.5H792M214 682.25H792M214 695H792M214 707.75H792M214 720.5H792M214 733.25H792M214 746H792"/>
</g>
<g fill="none" stroke="#000" stroke-width="1.3">
<path d="M13 633H7.5V760M173 760V633H163M65 633H110"/>
<path d="M482 633H214V760M523 633H792V760"/>
</g>
<text x="20" y="638" class="s" font-size="12" font-weight="bold">VHF Lo</text>
<text x="118" y="638" class="s" font-size="12" font-weight="bold">VHF Hi</text>
<text x="491" y="641" class="s" font-size="12" font-weight="bold">UHF</text>
<g class="s" font-size="12" text-anchor="end">
<text x="206" y="637">dBm</text>
<text x="206" y="648">-10</text><text x="206" y="660.75">-20</text><text x="206" y="673.5">-30</text><text x="206" y="686.25">-40</text><text x="206" y="699">-50</text><text x="206" y="711.75">-60</text><text x="206" y="724.5">-70</text><text x="206" y="737.25">-80</text><text x="206" y="750">-90</text>
<text x="212" y="765" font-size="11">Channel</text>
</g>
<path d="M8 760.5H173M214 760.5H792" stroke="#000" stroke-width="1"/>
<g class="s" font-size="7" fill="#333" text-anchor="middle">
<text x="12" y="765">2</text><text x="33" y="765">4</text><text x="55" y="765">5</text><text x="63" y="765">6</text><text x="106" y="765">7</text><text x="127" y="765">9</text><text x="148" y="765">11</text><text x="168" y="765">13</text>
<text x="218" y="765">14</text><text x="239" y="765">16</text><text x="270" y="765">19</text><text x="301" y="765">22</text><text x="332" y="765">25</text><text x="364" y="765">28</text><text x="395" y="765">31</text><text x="426" y="765">34</text><text x="457" y="765">37</text><text x="488" y="765">40</text><text x="520" y="765">43</text><text x="551" y="765">46</text><text x="582" y="765">49</text><text x="613" y="765">52</text><text x="644" y="765">55</text><text x="676" y="765">58</text><text x="707" y="765">61</text><text x="738" y="765">64</text><text x="769" y="765">67</text><text x="790" y="765">69</text>
</g>
<!-- yellow highlights -->
<g fill="#ffff60">
<rect x="6" y="749" width="14" height="11" rx="5"/><rect x="58" y="733" width="12" height="10" rx="5"/>
<rect x="99" y="695" width="15" height="11" rx="5"/><rect x="109" y="732" width="15" height="11" rx="5"/><rect x="119" y="694" width="15" height="11" rx="5"/><rect x="130" y="733" width="15" height="11" rx="5"/><rect x="141" y="745" width="15" height="11" rx="5"/><rect x="151" y="732" width="15" height="11" rx="5"/><rect x="160" y="714" width="15" height="11" rx="5"/>
</g>
<g>
<rect x="8" y="752" width="9" height="4" class="fa"/>
<rect x="50" y="739" width="9" height="4" style="fill:#c070d8"/>
<rect x="59" y="736" width="9" height="4" class="fa"/>
<rect x="102" y="698.5" width="9" height="4" style="fill:#1050b8"/>
<rect x="112" y="736" width="9" height="4" style="fill:#1050b8"/>
<rect x="122" y="698" width="9" height="4" style="fill:#1050b8"/>
<rect x="133" y="736.5" width="9" height="4" class="fa"/>
<rect x="144" y="749" width="9" height="4" class="fa"/>
<rect x="154" y="735.7" width="9" height="4" style="fill:#1050b8"/>
<rect x="163" y="718" width="9" height="4" style="fill:#1050b8"/>
</g>
<g style="fill:#1050b8">
<rect x="213.5" y="689" width="9" height="4"/><rect x="234.3" y="694" width="9" height="4"/><rect x="255" y="669.5" width="9" height="4"/><rect x="286.3" y="694.3" width="9" height="4"/><rect x="328" y="712.3" width="9" height="4"/><rect x="359" y="717.6" width="9" height="4"/><rect x="369.5" y="718" width="9" height="4"/><rect x="442.3" y="695.2" width="9" height="4"/><rect x="515" y="724.6" width="9" height="4"/><rect x="536" y="698.4" width="9" height="4"/>
</g>
<g style="fill:#8ab4e8">
<rect x="244.7" y="738" width="9" height="4"/><rect x="265.5" y="738" width="9" height="4"/><rect x="265.5" y="748" width="9" height="4"/><rect x="296.7" y="747.7" width="9" height="4"/><rect x="307" y="740.3" width="9" height="4"/><rect x="380" y="738" width="9" height="4"/><rect x="400.7" y="742" width="9" height="4"/><rect x="473.5" y="746.8" width="9" height="4"/><rect x="504.7" y="741" width="9" height="4"/><rect x="556.7" y="750.5" width="9" height="4"/><rect x="567" y="743.2" width="9" height="4"/><rect x="577.5" y="732" width="9" height="4"/>
</g>
<g style="fill:#7a20c0">
<rect x="586" y="724.6" width="12" height="4"/><rect x="597" y="722.3" width="12" height="4"/>
</g>
<g class="lb">
<text class="fa" transform="translate(16,747) rotate(-90)">W02AG</text>
<text style="fill:#c070d8" transform="translate(58,735) rotate(-90)">W05AC</text>
<text class="fa" transform="translate(67,732) rotate(-90)">WCES-DT</text>
<text class="st" transform="translate(110,694) rotate(-90)">WSPA-TV</text>
<text class="st" transform="translate(120,731) rotate(-90)">WOLO-TV</text>
<text class="st" transform="translate(130,693) rotate(-90)">WNTV</text>
<text class="fa" transform="translate(141,732) rotate(-90)">WIS-DT</text>
<text class="fa" transform="translate(152,744) rotate(-90)">W11AH-D</text>
<text class="st" transform="translate(162,731) rotate(-90)">WRDW-DT</text>
<text class="st" transform="translate(171,713) rotate(-90)">WLOS</text>
<text class="st" transform="translate(222,685) rotate(-90)">WMYA-DT</text>
<text class="st" transform="translate(243,690) rotate(-90)">WGGS-TV</text>
<text class="st" transform="translate(263,665) rotate(-90)">WNEH-DT</text>
<text class="fa" transform="translate(253,734) rotate(-90)">WLTX-DT</text>
<text class="fa" transform="translate(274,734) rotate(-90)">W19DD-D</text>
<text class="st" transform="translate(294,690) rotate(-90)">WHNS</text>
<text class="fa" transform="translate(305,744) rotate(-90)">WCNC-DT</text>
<text class="fa" transform="translate(315,736) rotate(-90)">WBTV</text>
<text class="st" transform="translate(336,708) rotate(-90)">WUNF-TV</text>
<text class="st" transform="translate(367,713) rotate(-90)">W28DB-D</text>
<text class="st" transform="translate(378,714) rotate(-90)">WSQY-LP</text>
<text class="fa" transform="translate(388,734) rotate(-90)">WAGT-DT</text>
<text class="fa" transform="translate(409,738) rotate(-90)">WRLK-DT</text>
<text class="st" transform="translate(450,691) rotate(-90)">WYFF-DT</text>
<text class="fa" transform="translate(482,743) rotate(-90)">WKTC-DT</text>
<text class="fa" transform="translate(513,737) rotate(-90)">W42DF-D</text>
<text class="st" transform="translate(523,720) rotate(-90)">WRET-DT</text>
<text class="st" transform="translate(544,694) rotate(-90)">WYCW-DT</text>
<text class="fa" transform="translate(565,747) rotate(-90)">WJZY-DT</text>
<text class="fa" transform="translate(575,739) rotate(-90)">WACH-DT</text>
<text class="fa" transform="translate(586,728) rotate(-90)">W10AJ</text>
<text class="pu" transform="translate(596,720) rotate(-90)">W50CL</text>
<text class="pu" transform="translate(606,718) rotate(-90)">WSQY-LP</text>
</g>
</svg>
</body></html>
